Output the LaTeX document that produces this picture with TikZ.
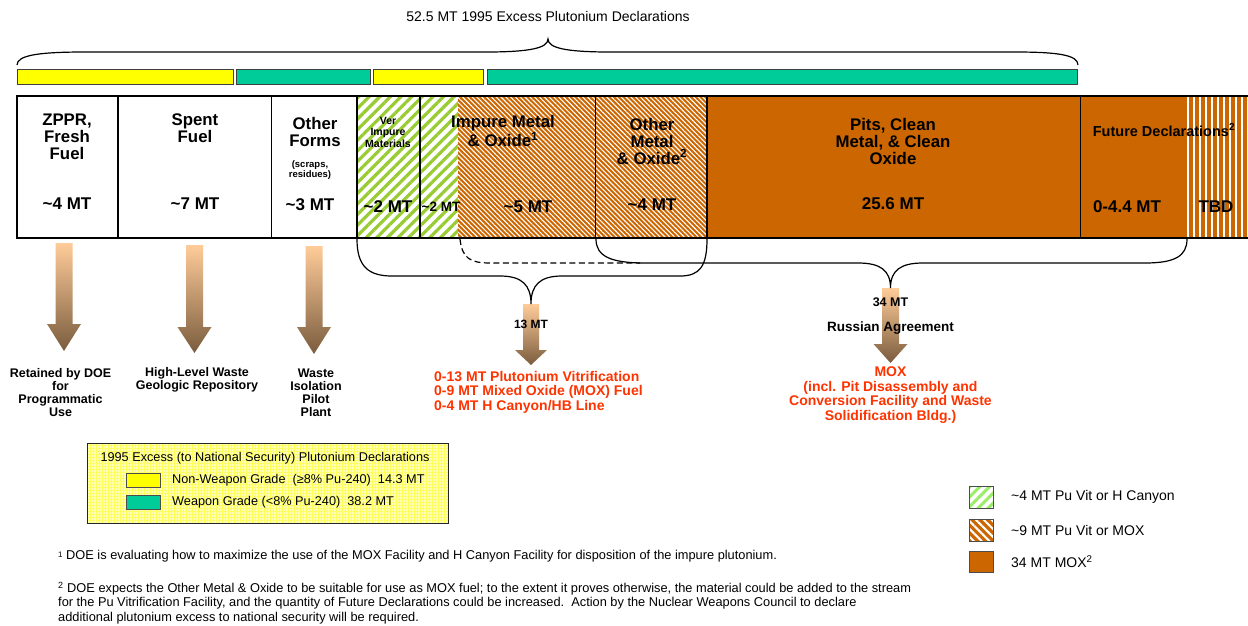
\documentclass[tikz,border=0pt]{standalone}
\usepackage{fontspec}
\setmainfont{Liberation Sans}
\usetikzlibrary{positioning,calc,patterns.meta}
\definecolor{puyellow}{HTML}{FFFF00}
\definecolor{pugreen}{HTML}{00CC99}
\definecolor{puorange}{HTML}{CC6600}
\definecolor{pulime}{HTML}{99CC33}
\definecolor{pulight}{HTML}{99EE66}
\definecolor{pured}{HTML}{FF3300}
\definecolor{pupeach}{HTML}{FFCC99}
\definecolor{pubrown}{HTML}{7A5C3E}
\newcommand{\app}{\textasciitilde}
\newcommand{\fsz}[2]{\fontsize{#1}{#2}\selectfont}
% shaded block arrow: name, x, top, head start, tip, half shaft
\newcommand{\puarrow}[6]{%
  \coordinate (#1) at (#2,#3);
  \coordinate (#1 tip) at (#2,#5);
  \shade[top color=pupeach, bottom color=pubrown]
    (#2-#6,#3) -- (#2+#6,#3) -- (#2+#6,#4) -- (#2+2*#6,#4) -- (#2,#5)
    -- (#2-2*#6,#4) -- (#2-#6,#4) -- cycle;}
\tikzset{
  grade/.style={draw=black!75, line width=0.9pt},
  barline/.style={line width=1.3pt},
  brace/.style={line width=1.2pt},
  limestripes/.style={fill=white, postaction={pattern={Lines[angle=45,distance=7.5pt,line width=3.2pt]}, pattern color=pulime}},
  orangehatch/.style={fill=puorange, postaction={pattern={Lines[angle=-45,distance=3.4pt,line width=1.1pt]}, pattern color=white}},
  tbdstripes/.style={fill=puorange, postaction={pattern={Lines[angle=90,distance=6pt,line width=2.4pt]}, pattern color=white}},
  lbl/.style={font=\bfseries\fsz{16.8}{17}, align=center, inner sep=0pt},
  val/.style={font=\bfseries\fsz{17}{17}, inner sep=0pt},
  dest/.style={font=\bfseries\fsz{12.5}{13}, align=center, inner sep=0pt},
  reddest/.style={font=\bfseries\fsz{14}{14.6}, text=pured, inner sep=0pt},
  note/.style={font=\fsz{12.8}{14.5}, align=left, anchor=west, inner sep=0pt},
  key/.style={draw=black!70, line width=0.8pt},
}
\begin{document}
\begin{tikzpicture}[x=1pt,y=-1pt]
  \useasboundingbox (0,0) rectangle (1248,625);
  % title and top brace
  \node[font=\fsz{14}{15}, inner sep=0pt] (title) at (548,16) {52.5 MT 1995 Excess Plutonium Declarations};
  \coordinate (topl) at (17,65);
  \coordinate (topr) at (1078,65);
  \coordinate (toptip) at (548,39);
  \draw[brace] (topl) .. controls (17,55) and (40,52) .. (85,52) -- (486,52)
    .. controls (530,52) and (548,48) .. (toptip)
    .. controls (548,48) and (566,52) .. (610,52) -- (1015,52)
    .. controls (1058,52) and (1078,55) .. (topr);
  % grade bars
  \path[grade, fill=puyellow] (17,69) rectangle (233,84);
  \path[grade, fill=pugreen] (236,69) rectangle (370,84);
  \path[grade, fill=puyellow] (373,69) rectangle (483,84);
  \path[grade, fill=pugreen] (487,69) rectangle (1077,84);
  % material bar
  \fill[white] (17,96) rectangle (357,238);
  \path[limestripes] (357,96) rectangle (458,238);
  \path[orangehatch] (458,96) rectangle (707,238);
  \fill[puorange] (707,96) rectangle (1187,238);
  \path[tbdstripes] (1187,96) rectangle (1248,238);
  \draw[barline] (1248,96) -- (17,96) -- (17,238) -- (1248,238);
  \foreach \x in {118,271.5,357,420,595.7,707,1080.6}
    \draw[barline] (\x,96) -- (\x,238);
  % bar labels
  \node[lbl] (zppr) at (67,137) {ZPPR,\\Fresh\\Fuel};
  \node[lbl] (spent) at (195,128) {Spent\\Fuel};
  \node[lbl] (forms) at (315,132) {Other\\Forms};
  \node[lbl, font=\bfseries\fsz{9.5}{10.5}] (scraps) at (310,170) {(scraps,\\residues)};
  \node[lbl, font=\bfseries\fsz{10.5}{11.5}] (verimp) at (388,132) {Ver\\Impure\\Materials};
  \node[lbl] (impure) at (503,131) {Impure Metal\\\& Oxide\textsuperscript{1}};
  \node[lbl] (othermo) at (652,141) {Other\\Metal\\\& Oxide\textsuperscript{2}};
  \node[lbl] (pits) at (893,141) {Pits, Clean\\Metal, \& Clean\\Oxide};
  \node[lbl, font=\bfseries\fsz{14.5}{16}] (future) at (1164,130) {Future Declarations\textsuperscript{2}};
  \node[val] (v1) at (67,204) {\app4 MT};
  \node[val] (v2) at (195,204) {\app7 MT};
  \node[val] (v3) at (310,205) {\app3 MT};
  \node[val] (v4) at (388,207) {\app2 MT};
  \node[val, font=\bfseries\fsz{13.5}{15}] (v5) at (441,207) {\app2 MT};
  \node[val] (v6) at (528,207) {\app5 MT};
  \node[val] (v7) at (652,205) {\app4 MT};
  \node[val] (v8) at (893,204) {25.6 MT};
  \node[val] (v9) at (1127,207) {0-4.4 MT};
  \node[val] (v10) at (1216,207) {TBD};
  % lower braces
  \coordinate (b1l) at (357,239);
  \coordinate (b1r) at (707,239);
  \coordinate (b2l) at (596,239);
  \coordinate (b2r) at (1187,239);
  \coordinate (dash) at (460,239);
  \puarrow{a1}{64}{243}{324}{351}{8.5}
  \puarrow{a2}{194.5}{245}{327}{353}{8.5}
  \puarrow{a3}{314}{246}{327}{354}{8.5}
  \puarrow{a4}{531}{304}{350}{365}{8}
  \puarrow{a5}{890.5}{288}{344}{363}{8.5}
  \draw[brace] (b1l) .. controls (357,266) and (368,276) .. (392,276) -- (500,276)
    .. controls (522,276) and (531,285) .. (a4)
    .. controls (531,285) and (540,276) .. (562,276) -- (680,276)
    .. controls (700,276) and (707,266) .. (b1r);
  \draw[brace] (b2l) .. controls (596,256) and (610,263) .. (645,263) -- (858,263)
    .. controls (880,263) and (890.5,270) .. (a5)
    .. controls (890.5,270) and (901,263) .. (923,263) -- (1145,263)
    .. controls (1175,263) and (1187,256) .. (b2r);
  \draw[brace, dash pattern=on 6pt off 3.5pt] (dash) .. controls (462,258) and (470,263) .. (490,263) -- (640,263);
  % destinations
  \node[dest] (retained) at (60.5,392.5) {Retained by DOE\\for\\Programmatic\\Use};
  \node[dest] (hlw) at (197,379.5) {High-Level Waste\\Geologic Repository};
  \node[dest] (wipp) at (316,392.5) {Waste\\Isolation\\Pilot\\Plant};
  \node[dest, font=\bfseries\fsz{12}{13}] (mt13) at (531,324) {13 MT};
  \node[reddest, align=left, anchor=west] (vitmox) at (434,392) {0-13 MT Plutonium Vitrification\\0-9 MT Mixed Oxide (MOX) Fuel\\0-4 MT H Canyon/HB Line};
  \node[dest] (mt34) at (890.5,302) {34 MT};
  \node[dest, font=\bfseries\fsz{13.5}{15}] (russia) at (890.5,328) {Russian Agreement};
  \node[reddest, align=center] (mox) at (890.5,395) {MOX\\(incl. Pit Disassembly and\\Conversion Facility and Waste\\Solidification Bldg.)};
  % grade legend
  \path[fill=puyellow!28, postaction={pattern={Hatch[angle=0,distance=3pt,line width=0.4pt]}, pattern color=puyellow!65}] (87,443) rectangle (448,523);
  \draw[black!85, line width=1pt] (87,443) rectangle (448,523);
  \node[font=\fsz{12.7}{14}, inner sep=0pt] (legtitle) at (265,458) {1995 Excess (to National Security) Plutonium Declarations};
  \path[key, fill=puyellow] (126,473) rectangle (160,487);
  \path[key, fill=pugreen] (126,495) rectangle (160,509);
  \node[note, font=\fsz{12.7}{14}] (nwg) at (172,480) {Non-Weapon Grade~~(≥8\% Pu-240)~~14.3 MT};
  \node[note, font=\fsz{12.7}{14}] (wg) at (172,502) {Weapon Grade (<8\% Pu-240)~~38.2 MT};
  % footnotes
  \node[note] (fn1) at (58,556) {{\fsz{8}{9}\raisebox{2pt}{1}} DOE is evaluating how to maximize the use of the MOX Facility and H Canyon Facility for disposition of the impure plutonium.};
  \node[note] (fn2) at (58,603) {\textsuperscript{2} DOE expects the Other Metal \& Oxide to be suitable for use as MOX fuel; to the extent it proves otherwise, the material could be added to the stream\\for the Pu Vitrification Facility, and the quantity of Future Declarations could be increased.~~Action by the Nuclear Weapons Council to declare\\additional plutonium excess to national security will be required.};
  % disposition legend
  \path[fill=white, postaction={pattern={Lines[angle=45,distance=7pt,line width=3pt]}, pattern color=pulight}] (969,486) rectangle (993,508);
  \draw[key] (969,486) rectangle (993,508);
  \path[fill=puorange, postaction={pattern={Lines[angle=-45,distance=5.5pt,line width=2pt]}, pattern color=white}] (969,519) rectangle (993,541);
  \draw[key] (969,519) rectangle (993,541);
  \path[key, fill=puorange] (969,551) rectangle (993,572);
  \node[note, font=\fsz{14}{15}] (k1) at (1011,497) {\app4 MT Pu Vit or H Canyon};
  \node[note, font=\fsz{14}{15}] (k2) at (1011,530) {\app9 MT Pu Vit or MOX};
  \node[note, font=\fsz{14}{15}] (k3) at (1011,562) {34 MT MOX\textsuperscript{2}};
\end{tikzpicture}
\end{document}
